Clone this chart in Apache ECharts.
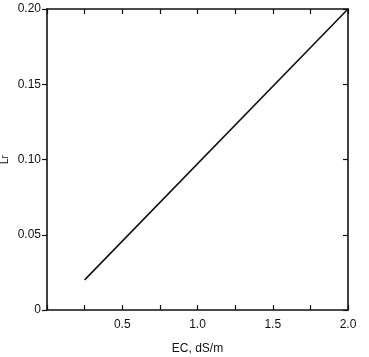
<!DOCTYPE html>
<html><head><meta charset="utf-8">
<script src="https://cdn.jsdelivr.net/npm/echarts@6/dist/echarts.min.js"></script>
<style>html,body{margin:0;padding:0;background:#fff}#c{width:369px;height:357px}</style>
</head><body><div id="c"></div>
<script>
var ecValues = [0.25, 2.0];
var lrValues = [0.02, 0.20];
var xTickLabels = ['0.5', '1.0', '1.5', '2.0'];
var yTickLabels = ['0', '0.05', '0.10', '0.15', '0.20'];
var xTitle = 'EC, dS/m';
var yTitle = 'Lr';

var font = "'Liberation Sans Narrow', 'Liberation Sans', Arial, sans-serif";
var chart = echarts.init(document.getElementById('c'));
var axisLine = {show: true, onZero: false, lineStyle: {color: '#111', width: 1.6}};
chart.setOption({
  animation: false,
  backgroundColor: '#fff',
  grid: {left: 47, right: 21, top: 9, bottom: 47, containLabel: false, outerBoundsMode: 'none'},
  xAxis: [{
    type: 'value', min: 0, max: 2, interval: 0.25, position: 'bottom',
    axisLine: axisLine,
    axisTick: {show: true, inside: true, length: 5, lineStyle: {color: '#111', width: 1.2}},
    splitLine: {show: false},
    axisLabel: {color: '#111', fontFamily: font, fontSize: 12, margin: 9,
      formatter: function (v) {
        var s = v.toFixed(1);
        return xTickLabels.indexOf(s) >= 0 && Math.abs(v * 2 - Math.round(v * 2)) < 1e-6 ? s : '';
      }},
    name: xTitle, nameLocation: 'middle', nameGap: 33, nameMoveOverlap: false,
    nameTextStyle: {color: '#111', fontFamily: font, fontSize: 12}
  }, {
    type: 'value', min: 0, max: 2, interval: 0.25, position: 'top',
    axisLine: axisLine,
    axisTick: {show: true, inside: true, length: 5, lineStyle: {color: '#111', width: 1.2}},
    splitLine: {show: false}, axisLabel: {show: false}
  }],
  yAxis: [{
    type: 'value', min: 0, max: 0.2, interval: 0.05, position: 'left',
    axisLine: axisLine,
    axisTick: {show: true, inside: false, length: 5, lineStyle: {color: '#111', width: 1.2}},
    splitLine: {show: false},
    axisLabel: {color: '#111', fontFamily: font, fontSize: 12, margin: 6,
      formatter: function (v) { return yTickLabels[Math.round(v / 0.05)]; }},
    name: yTitle, nameLocation: 'middle', nameGap: 37, nameRotate: 90, nameMoveOverlap: false,
    nameTextStyle: {color: '#111', fontFamily: font, fontSize: 10}
  }, {
    type: 'value', min: 0, max: 0.2, interval: 0.05, position: 'right',
    axisLine: axisLine,
    axisTick: {show: true, inside: true, length: 5, lineStyle: {color: '#111', width: 1.2}},
    splitLine: {show: false}, axisLabel: {show: false}
  }],
  series: [{
    type: 'line',
    xAxisIndex: 0, yAxisIndex: 0,
    data: ecValues.map(function (x, i) { return [x, lrValues[i]]; }),
    symbol: 'none',
    lineStyle: {color: '#111', width: 1.6}
  }]
});
</script></body></html>
